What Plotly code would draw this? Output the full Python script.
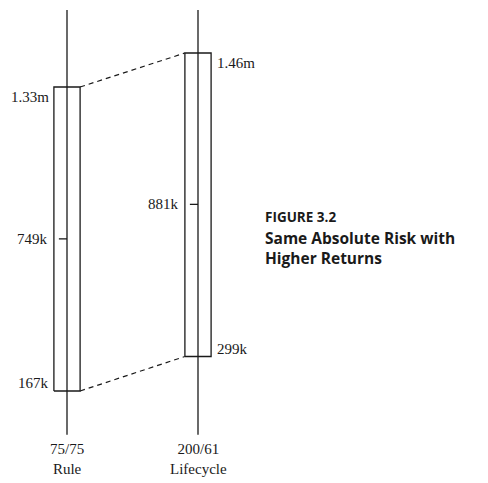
import plotly.graph_objects as go

# values in thousands of dollars
groups = ["75/75", "200/61"]
strategies = ["Rule", "Lifecycle"]
highs = [1330, 1460]
medians = [749, 881]
lows = [167, 299]
axis_top = 1625

figure_number = "FIGURE 3.2"
caption = "Same Absolute Risk with<br>Higher Returns"


def fmt(v):
    return f"{v / 1000:.2f}m" if v >= 1000 else f"{v}k"


ink = "#1a1a1a"
serif = dict(family="Liberation Serif", size=15, color=ink)
half = 0.1
tick = 0.062

# page body adds an 8px offset, so the figure is 8px smaller than the window
W, H = 480, 475
px_per_k = 304 / 1163

fig = go.Figure()
annotations = []

for i, (grp, name, hi, med, lo) in enumerate(zip(groups, strategies, highs, medians, lows)):
    # vertical axis line
    fig.add_trace(go.Scatter(x=[i, i], y=[0, axis_top], mode="lines",
                             line=dict(color=ink, width=1.3), hoverinfo="skip"))
    # box from low to high
    fig.add_trace(go.Scatter(x=[i - half, i + half, i + half, i - half, i - half],
                             y=[lo, lo, hi, hi, lo], mode="lines",
                             line=dict(color=ink, width=1.3), hoverinfo="skip"))
    # median tick
    fig.add_trace(go.Scatter(x=[i - tick, i], y=[med, med], mode="lines",
                             line=dict(color=ink, width=1.3), hoverinfo="skip"))

    side = "right" if i == 0 else "left"
    edge = i - half if i == 0 else i + half
    shift = -3 if i == 0 else 4
    annotations += [
        dict(x=edge, y=hi, text=fmt(hi), xanchor=side, yanchor="middle",
             xshift=shift, yshift=-10),
        dict(x=edge, y=lo, text=fmt(lo), xanchor=side, yanchor="middle",
             xshift=shift, yshift=8),
        dict(x=i - half, y=med, text=fmt(med), xanchor="right", yanchor="middle",
             xshift=-4),
        dict(x=i, y=0, text=f"{grp}<br>{name}", xanchor="center", yanchor="top",
             yshift=-4),
    ]

# dashed connectors between the box tops and bottoms
for pair in (highs, lows):
    fig.add_trace(go.Scatter(x=[half, 1 - half], y=pair, mode="lines",
                             line=dict(color=ink, width=1.2, dash="5px,4px"),
                             hoverinfo="skip"))

for a in annotations:
    a.update(xref="x", yref="y", showarrow=False, font=serif)

annotations += [
    dict(xref="paper", yref="paper", x=255 / W, y=1 - 209 / H, text=figure_number,
         xanchor="left", yanchor="middle", showarrow=False,
         font=dict(family="Open Sans", size=13.5, color=ink, weight="bold")),
    dict(xref="paper", yref="paper", x=255 / W, y=1 - 217 / H, text=caption,
         xanchor="left", yanchor="top", showarrow=False, align="left",
         font=dict(family="Open Sans", size=15.5, color=ink, weight="bold")),
]

fig.update_layout(
    width=W, height=H, margin=dict(l=0, r=0, t=0, b=0),
    paper_bgcolor="white", plot_bgcolor="white", showlegend=False,
    xaxis=dict(range=[-59 / 131, (W - 59) / 131], visible=False),
    yaxis=dict(range=[1330 - (483 - 87) / px_per_k, 1330 + (87 - 8) / px_per_k],
               visible=False),
    annotations=annotations,
)

fig.write_html("out.html")
